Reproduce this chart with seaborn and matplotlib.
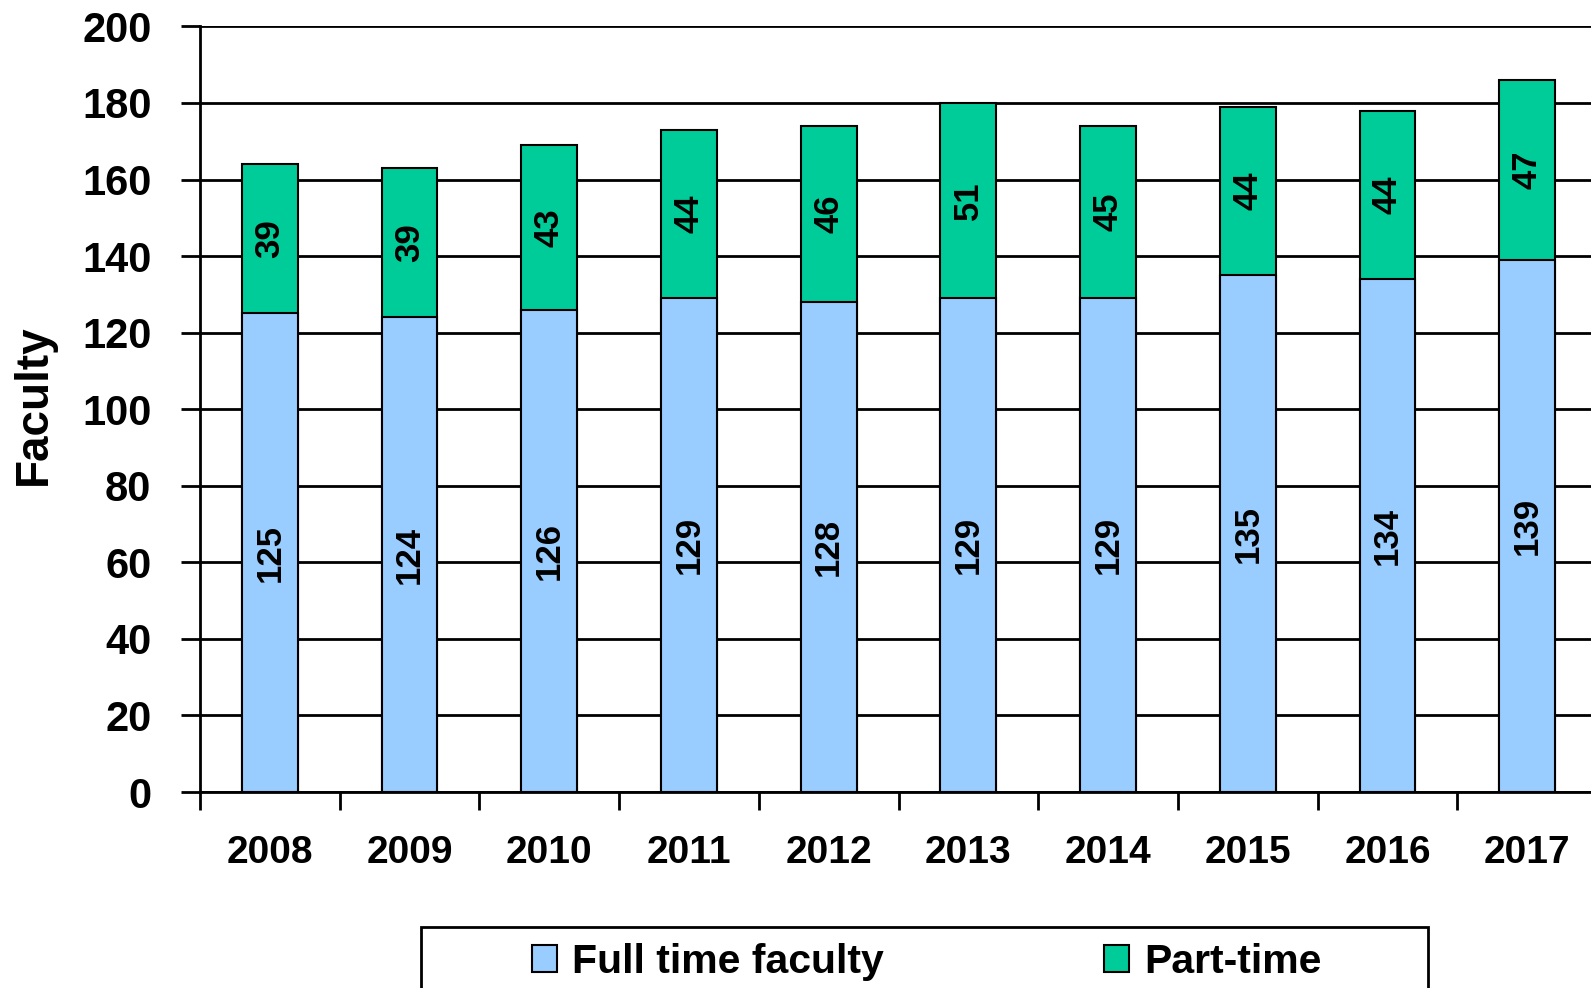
import numpy as np
import pandas as pd
import matplotlib
matplotlib.use("Agg")
import matplotlib.pyplot as plt
import seaborn as sns
from matplotlib.patches import Patch, Rectangle

## Dados
years = ["2008", "2009", "2010", "2011", "2012", "2013", "2014", "2015", "2016", "2017"]
full_time = [125, 124, 126, 129, 128, 129, 129, 135, 134, 139]
part_time = [39, 39, 43, 44, 46, 51, 45, 44, 44, 47]
y_ticks = [0, 20, 40, 60, 80, 100, 120, 140, 160, 180, 200]

blue = "#99CCFF"
green = "#00CC99"

df = pd.DataFrame({"year": years, "full": full_time, "part": part_time})
df["total"] = df["full"] + df["part"]

sns.set_style("white")
plt.rcParams["font.family"] = ["Liberation Sans", "DejaVu Sans"]
plt.rcParams["font.weight"] = "bold"
plt.rcParams["text.color"] = "black"
plt.rcParams["axes.labelcolor"] = "black"
plt.rcParams["xtick.color"] = "black"
plt.rcParams["ytick.color"] = "black"

W, H = 1591, 988
fig = plt.figure(figsize=(W / 100, H / 100), dpi=100)
ax = fig.add_axes([200 / W, 1 - 792 / H, 1397 / W, (792 - 26.4) / H])

# barra total (verde) e por cima o full time (azul)
sns.barplot(data=df, x="year", y="total", color=green, width=0.4,
            edgecolor="black", linewidth=1.5, saturation=1, ax=ax, zorder=3)
sns.barplot(data=df, x="year", y="full", color=blue, width=0.4,
            edgecolor="black", linewidth=1.5, saturation=1, ax=ax, zorder=3)

# rótulos das barras
blue_bars = ax.containers[1]
for i, bb in enumerate(blue_bars):
    x = bb.get_x() + bb.get_width() / 2
    ax.text(x, full_time[i] / 2, str(full_time[i]), rotation=90, ha="center",
            va="center", fontsize=25, fontweight="bold", zorder=5)
    ax.text(x, full_time[i] + part_time[i] / 2, str(part_time[i]), rotation=90,
            ha="center", va="center", fontsize=25, fontweight="bold", zorder=5)

ax.set_ylim(0, 200)
ax.set_xlim(-0.5, len(years) - 0.5)
ax.set_yticks(y_ticks)
ax.set_yticklabels([str(v) for v in y_ticks], fontsize=30, fontweight="bold")
ax.set_xticks(range(len(years)))
ax.set_xticklabels(years, fontsize=28, fontweight="bold")
ax.set_xticks(np.arange(-0.5, len(years) + 0.5, 1), minor=True)
ax.tick_params(axis="x", which="major", bottom=True, length=0, pad=31)
ax.tick_params(axis="x", which="minor", bottom=True, length=13, width=2,
               direction="out", color="black")
ax.tick_params(axis="y", which="major", left=True, length=14, width=2,
               direction="out", color="black", pad=21)

ax.grid(axis="y", color="black", linewidth=2)
ax.set_axisbelow(True)
for s in ["top", "right"]:
    ax.spines[s].set_visible(False)
for s in ["left", "bottom"]:
    ax.spines[s].set_color("black")
    ax.spines[s].set_linewidth(2)

ax.set_xlabel("")
ax.set_ylabel("")
fig.text(34 / W, 1 - 405 / H, "Faculty", rotation=90, ha="center", va="center",
         fontsize=33, fontweight="bold")

# caixa da legenda (sai pela borda de baixo)
fig.add_artist(Rectangle((421 / W, -0.05), 1007 / W, 0.05 + 1 - 927 / H,
                         transform=fig.transFigure, fill=False,
                         edgecolor="black", linewidth=2))
handles = [Patch(facecolor=blue, edgecolor="black", linewidth=1.5),
           Patch(facecolor=green, edgecolor="black", linewidth=1.5)]
leg = fig.legend(handles, ["Full time faculty", "Part-time"], ncol=2,
                 loc="center left", bbox_to_anchor=(532 / W, 1 - 962 / H),
                 borderaxespad=0, borderpad=0, frameon=False,
                 prop={"weight": "bold", "size": 29.5},
                 handlelength=0.61, handleheight=0.61, handletextpad=0.37,
                 columnspacing=5.37)

fig.savefig("out.png", dpi=100)
